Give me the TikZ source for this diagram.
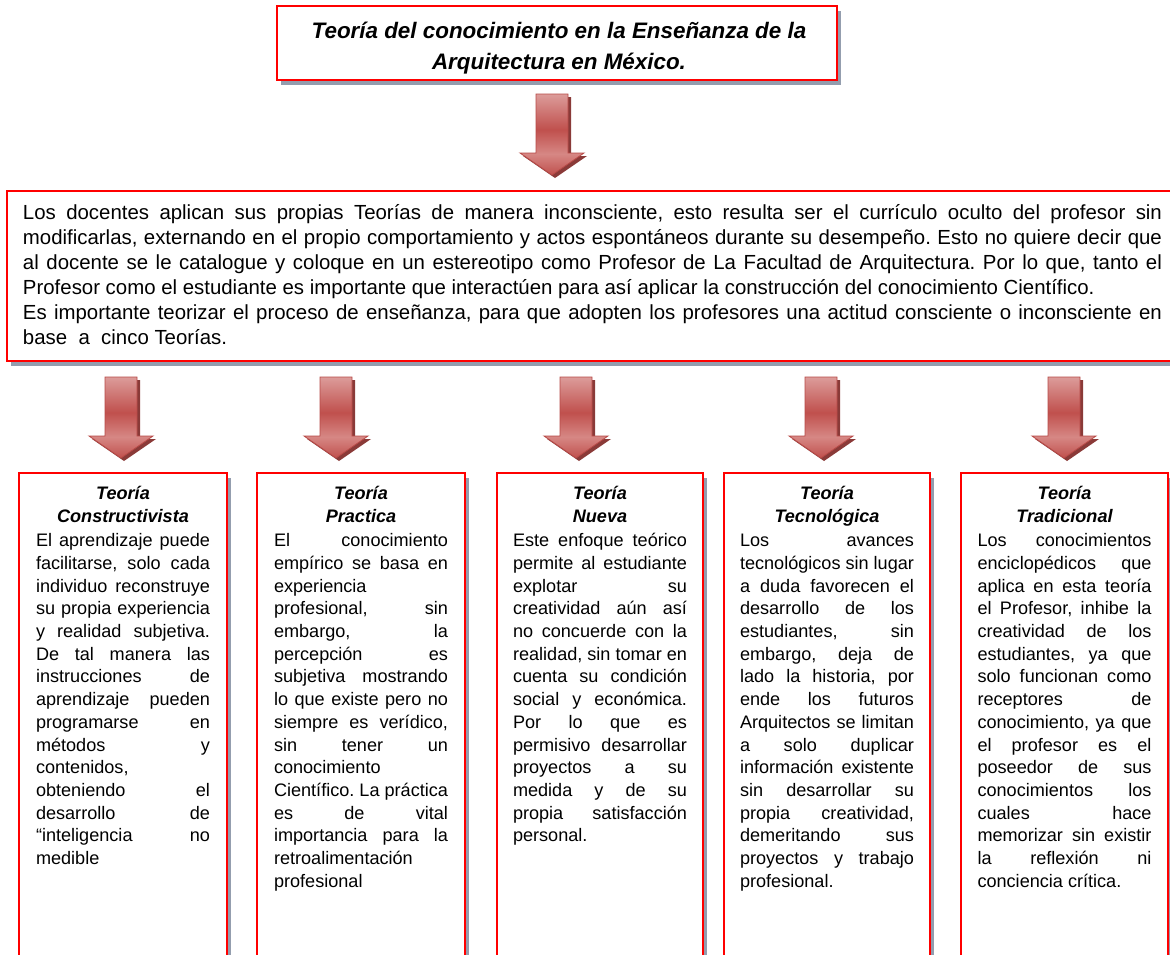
\documentclass[tikz,border=0pt]{standalone}
\usepackage{fontspec}
\setmainfont{Liberation Sans}
\usetikzlibrary{shadows}
\frenchspacing
\definecolor{boxred}{HTML}{FF0000}
\definecolor{shadowgray}{HTML}{939DAE}
\definecolor{arrLight}{HTML}{DC9C9A}
\definecolor{arrMid}{HTML}{C0504D}
\definecolor{arrLightB}{HTML}{D68784}
\definecolor{arrEdge}{HTML}{B84A47}
\definecolor{arrShadow}{HTML}{8A3A38}
\pgfdeclareverticalshading{arrowshade}{100bp}{color(0bp)=(arrMid); color(25bp)=(arrMid); color(38bp)=(arrLightB); color(53bp)=(arrMid); color(75bp)=(arrLight); color(100bp)=(arrLight)}
\newcommand\jline[1]{\hbox to\hsize{#1}}
\newcommand\nline[1]{\hbox{#1}}
\newcommand\colhead[1]{\hbox to\hsize{\hfil\rule{0pt}{18pt}\bfseries\itshape #1\hfil}}
\tikzset{
  box/.style={draw=boxred, line width=2pt, fill=white, inner sep=0pt, outer sep=0pt,
    general shadow={fill=shadowgray, shadow xshift=4pt, shadow yshift=-4.5pt}},
  txt/.style={inner sep=0pt, outer sep=0pt, text=black},
  coltxt/.style={txt, font=\fontsize{18.1}{22.7}\selectfont\frenchspacing},
  blockarrow/.pic={
    \fill[arrShadow] (-13,3) -- (19,3) -- (19,62) -- (35,62) -- (3,84) -- (-29,62) -- (-13,62) -- cycle;
    \shadedraw[shading=arrowshade, draw=arrEdge, line width=0.8pt] (-16,0) -- (16,0) -- (16,59) -- (32,59) -- (0,81) -- (-32,59) -- (-16,59) -- cycle;
  }
}
\begin{document}
\begin{tikzpicture}[x=1pt,y=-1pt]
\clip (0,0) rectangle (1170,954);
\fill[white] (0,0) rectangle (1170,954);

% title
\node[box, minimum width=560pt, minimum height=74pt] (title) at (557,43) {};
\node[txt, anchor=north, font=\fontsize{22.4}{30.7}\selectfont\bfseries\itshape] (titletext) at ([xshift=2pt,yshift=-9.8pt]title.north)
 {\vbox{\hsize=560pt
  \hbox to\hsize{\hfil\rule{0pt}{23pt}Teoría del conocimiento en la Enseñanza de la\hfil}
  \hbox to\hsize{\hfil Arquitectura en México.\hfil}}};

\pic (a0) at (552,94) {blockarrow};

% main box
\node[box, minimum width=1183pt, minimum height=170pt] (main) at (598.5,276) {};
\node[txt, anchor=north west, font=\fontsize{20.4}{25}\selectfont\frenchspacing] (maintext) at ([xshift=16pt,yshift=-8.3pt]main.north west)
 {\vbox{\hsize=1139pt
  \jline{\rule{0pt}{20pt}Los docentes aplican sus propias Teorías de manera inconsciente, esto resulta ser el currículo oculto del profesor sin}
  \jline{modificarlas, externando en el propio comportamiento y actos espontáneos durante su desempeño. Esto no quiere decir que}
  \jline{al docente se le catalogue y coloque en un estereotipo como Profesor de La Facultad de Arquitectura. Por lo que, tanto el}
  \nline{Profesor como el estudiante es importante que interactúen para así aplicar la construcción del conocimiento Científico.}
  \jline{Es importante teorizar el proceso de enseñanza, para que adopten los profesores una actitud consciente o inconsciente en}
  \nline{base\ \ a\ \ cinco Teorías.}}};

\pic (a1) at (121,377) {blockarrow};
\pic (a2) at (336,377) {blockarrow};
\pic (a3) at (576,377) {blockarrow};
\pic (a4) at (821,377) {blockarrow};
\pic (a5) at (1064,377) {blockarrow};

% column boxes
\node[box, minimum width=208pt, minimum height=502pt] (b1) at (123,724) {};
\node[box, minimum width=208pt, minimum height=502pt] (b2) at (361,724) {};
\node[box, minimum width=206pt, minimum height=502pt] (b3) at (600,724) {};
\node[box, minimum width=206pt, minimum height=502pt] (b4) at (827,724) {};
\node[box, minimum width=207pt, minimum height=502pt] (b5) at (1064.5,724) {};

\node[coltxt, anchor=north] (t1) at ([yshift=-8.3pt]b1.north) {\vbox{\hsize=174pt
 \colhead{Teoría}
 \colhead{Constructivista}
 \vskip2pt
 \jline{El aprendizaje puede}
 \jline{facilitarse, solo cada}
 \jline{individuo reconstruye}
 \jline{su propia experiencia}
 \jline{y realidad subjetiva.}
 \jline{De tal manera las}
 \jline{instrucciones de}
 \jline{aprendizaje pueden}
 \jline{programarse en}
 \jline{métodos y}
 \jline{contenidos,\hfil}
 \jline{obteniendo el}
 \jline{desarrollo de}
 \jline{“inteligencia no}
 \nline{medible}}};

\node[coltxt, anchor=north] (t2) at ([yshift=-8.3pt]b2.north) {\vbox{\hsize=174pt
 \colhead{Teoría}
 \colhead{Practica}
 \vskip2pt
 \jline{El conocimiento}
 \jline{empírico se basa en}
 \jline{experiencia\hfil}
 \jline{profesional, sin}
 \jline{embargo, la}
 \jline{percepción es}
 \jline{subjetiva mostrando}
 \jline{lo que existe pero no}
 \jline{siempre es verídico,}
 \jline{sin tener un}
 \jline{conocimiento\hfil}
 \jline{Científico. La práctica}
 \jline{es de vital}
 \jline{importancia para la}
 \jline{retroalimentación\hfil}
 \nline{profesional}}};

\node[coltxt, anchor=north] (t3) at ([yshift=-8.3pt]b3.north) {\vbox{\hsize=174pt
 \colhead{Teoría}
 \colhead{Nueva}
 \vskip2pt
 \jline{Este enfoque teórico}
 \jline{permite al estudiante}
 \jline{explotar su}
 \jline{creatividad aún así}
 \jline{no concuerde con la}
 \jline{realidad, sin tomar en}
 \jline{cuenta su condición}
 \jline{social y económica.}
 \jline{Por lo que es}
 \jline{permisivo desarrollar}
 \jline{proyectos a su}
 \jline{medida y de su}
 \jline{propia satisfacción}
 \nline{personal.}}};

\node[coltxt, anchor=north] (t4) at ([yshift=-8.3pt]b4.north) {\vbox{\hsize=174pt
 \colhead{Teoría}
 \colhead{Tecnológica}
 \vskip2pt
 \jline{Los avances}
 \jline{tecnológicos sin lugar}
 \jline{a duda favorecen el}
 \jline{desarrollo de los}
 \jline{estudiantes, sin}
 \jline{embargo, deja de}
 \jline{lado la historia, por}
 \jline{ende los futuros}
 \jline{Arquitectos se limitan}
 \jline{a solo duplicar}
 \jline{información existente}
 \jline{sin desarrollar su}
 \jline{propia creatividad,}
 \jline{demeritando sus}
 \jline{proyectos y trabajo}
 \nline{profesional.}}};

\node[coltxt, anchor=north] (t5) at ([yshift=-8.3pt]b5.north) {\vbox{\hsize=174pt
 \colhead{Teoría}
 \colhead{Tradicional}
 \vskip2pt
 \jline{Los conocimientos}
 \jline{enciclopédicos que}
 \jline{aplica en esta teoría}
 \jline{el Profesor, inhibe la}
 \jline{creatividad de los}
 \jline{estudiantes, ya que}
 \jline{solo funcionan como}
 \jline{receptores de}
 \jline{conocimiento, ya que}
 \jline{el profesor es el}
 \jline{poseedor de sus}
 \jline{conocimientos los}
 \jline{cuales hace}
 \jline{memorizar sin existir}
 \jline{la reflexión ni}
 \nline{conciencia crítica.}}};
\end{tikzpicture}
\end{document}
